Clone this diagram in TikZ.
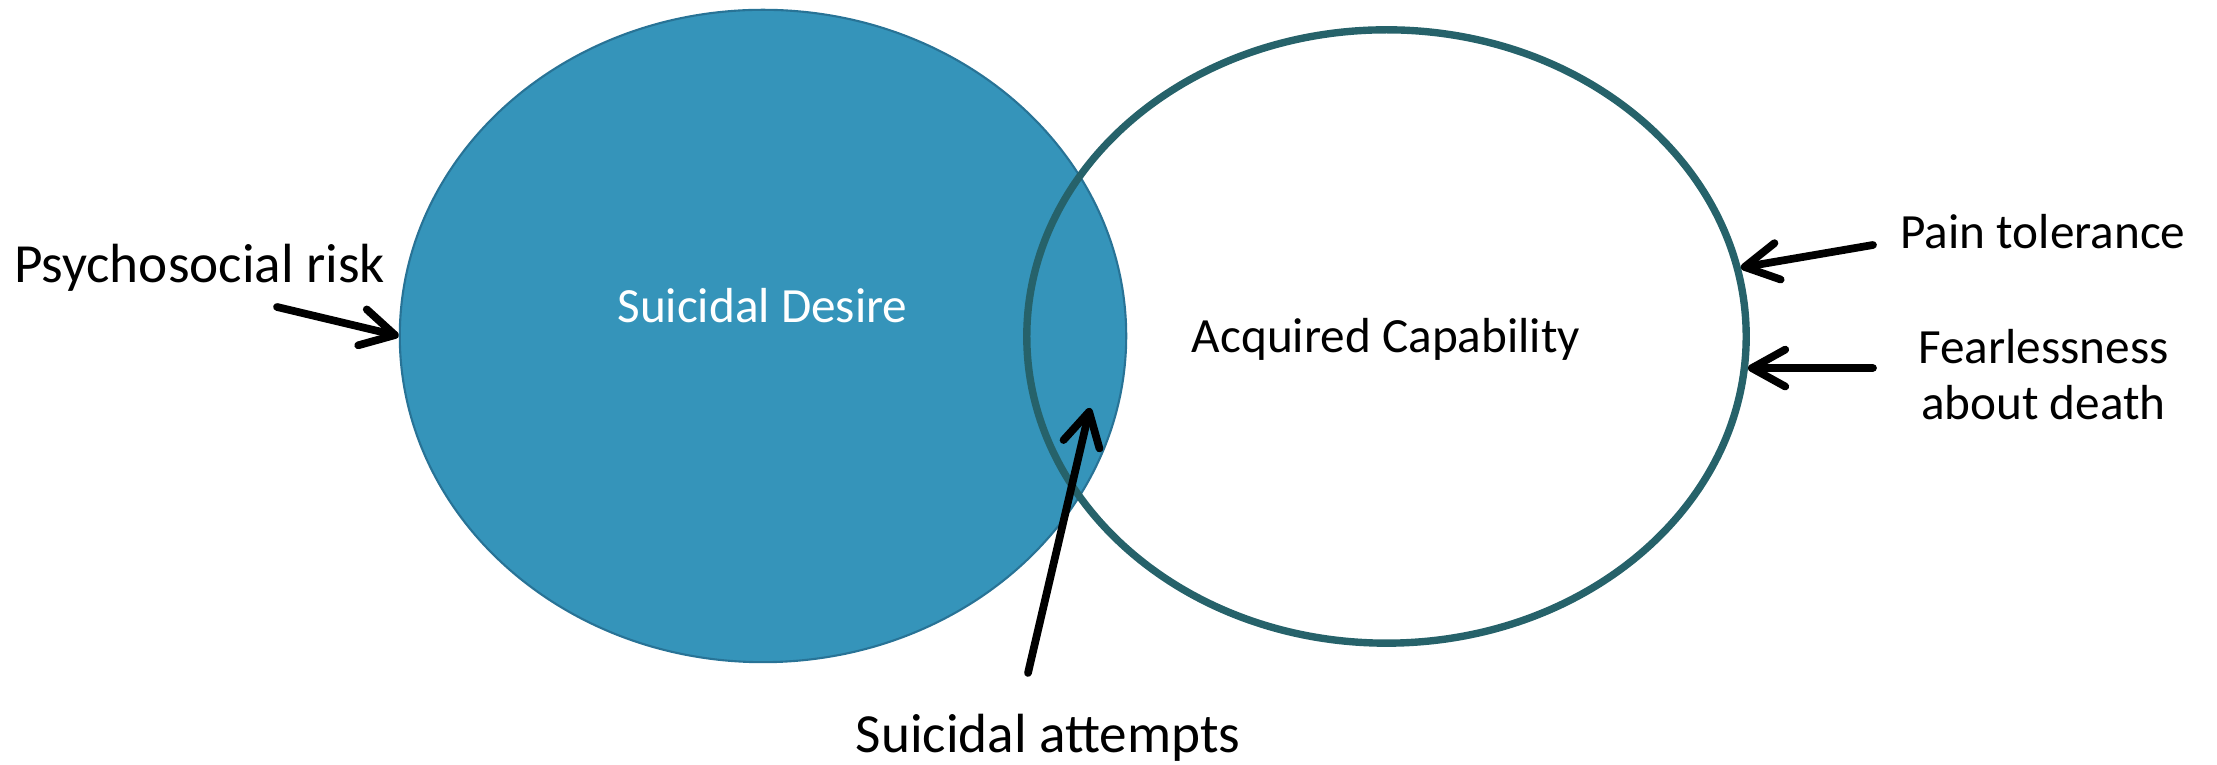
\documentclass[tikz,border=0pt]{standalone}
\usepackage{fontspec}
\setmainfont{Carlito}
\usetikzlibrary{shapes.geometric,arrows.meta}
\definecolor{desirefill}{RGB}{53,148,186}
\definecolor{desireedge}{RGB}{40,115,150}
\definecolor{capedge}{RGB}{38,98,106}
\begin{document}
\begin{tikzpicture}[x=0.01cm,y=-0.01cm,
  lbl/.style={font=\fontsize{14}{16.2}\selectfont, inner sep=0pt, align=center, anchor=base},
  biglbl/.style={lbl, font=\fontsize{15.7}{18}\selectfont},
  pointer/.style={line width=2.2pt, line cap=round,
    -{Straight Barb[length=9.5pt,width=10.5pt,line cap=round,line join=round]}}]
\useasboundingbox (0,0) rectangle (2217,765);
% the two overlapping sets
\node[ellipse, fill=desirefill, draw=desireedge, line width=0.6pt,
      minimum width=7.26cm, minimum height=6.52cm, inner sep=0pt] (desire) at (763,336) {};
\node[ellipse, draw=capedge, line width=2.1pt,
      minimum width=7.19cm, minimum height=6.13cm, inner sep=0pt] (capab) at (1386.5,336.5) {};
% labels
\node[lbl, text=white] (desiretxt) at (762.5,323) {Suicidal Desire};
\node[lbl] (captxt) at (1386,353) {Acquired Capability};
\node[biglbl] (psy) at (199.5,283) {Psychosocial risk};
\node[lbl] (pain) at (2043,249) {Pain tolerance};
\node[lbl] (fear) at (2043.5,420) {Fearlessness\\about death};
\node[biglbl] (att) at (1048,753) {Suicidal attempts};
% free ends of the arrows
\coordinate (psytail) at (277,307);
\coordinate (paintail) at (1873,245);
\coordinate (feartail) at (1873,368);
\coordinate (atttail) at (1028,673);
\coordinate (atttip) at (1090,408);
% arrows
\draw[pointer] (psytail) -- (desire.west);
\draw[pointer] (paintail) -- (capab.11.5);
\draw[pointer] (feartail) -- (capab.-5.8);
\draw[pointer] (atttail) -- (atttip);
\end{tikzpicture}
\end{document}
